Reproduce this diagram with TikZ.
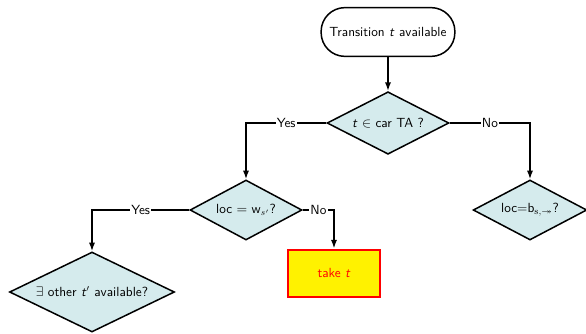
\documentclass[tikz,border=0pt]{standalone}
\usepackage{amsmath,amssymb}
\usepackage{sansmath}
\renewcommand{\familydefault}{\sfdefault}
\usetikzlibrary{arrows.meta,positioning,shapes.geometric}
\definecolor{askfill}{RGB}{213,235,237}
\newcommand{\vt}{\textit{t}}

\begin{document}
\sansmath
\begin{tikzpicture}[
  x=0.8pt, y=-0.8pt,
  font=\sffamily\fontsize{10.6}{12.7}\selectfont,
  startbox/.style={draw, line width=1.2pt, rounded corners=19pt, align=center, minimum width=107pt, minimum height=39pt, fill=white},
  ask/.style={draw, diamond, line width=1.2pt, fill=askfill, inner sep=0pt, aspect=2},
  act/.style={draw=red, line width=1.6pt, fill=yellow, text=red, minimum width=73pt, minimum height=37.6pt},
  arrow/.style={-{Latex[length=7pt,width=5pt]}, line width=1.2pt},
  answer/.style={fill=white, inner sep=1pt}
]
\useasboundingbox (0,0) rectangle (586,333);

\node[startbox] (start) at (388,32) {Transition \vt{} available};
\node[ask, minimum width=97.6pt, minimum height=50pt] (intaa) at (388,123) {\vt{} $\in$ car TA ?};
\node[ask, minimum width=89.6pt, minimum height=48pt] (atw) at (246,210) {loc $=$ w$_{\mathit{s'}}$?};
\node[ask, minimum width=91pt, minimum height=48pt] (atb) at (530,210) {loc=b$_{s,\twoheadrightarrow}$?};
\node[ask, minimum width=132pt, minimum height=64pt] (other) at (92,292) {$\exists$ other \vt$'$ available?};
\node[act] (take) at (334,273) {take \vt};

\draw[arrow] (start) -- (intaa);
\draw[arrow] (intaa.west) -| node[answer, pos=0.25] {Yes} (atw.north);
\draw[arrow] (intaa.east) -| node[answer, pos=0.25] {No} (atb.north);
\draw[arrow] (atw.west) -| node[answer, pos=0.25] {Yes} (other.north);
\draw[arrow] (atw.east) -| node[answer, pos=0.25] {No} (take.north);

\end{tikzpicture}
\end{document}
